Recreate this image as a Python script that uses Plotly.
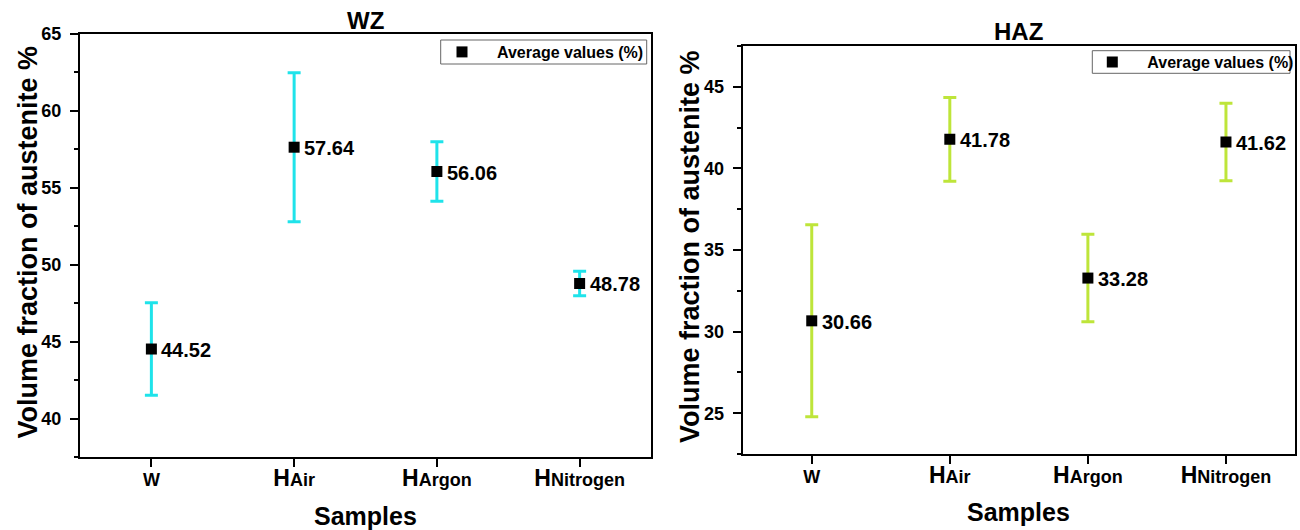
import plotly.graph_objects as go

# ---------------- data ----------------
categories = ["W", "HAir", "HArgon", "HNitrogen"]
tick_labels = [
    "W",
    "<span style='font-size:23px'>H</span>Air",
    "<span style='font-size:23px'>H</span>Argon",
    "<span style='font-size:23px'>H</span>Nitrogen",
]
wz_values = [44.52, 57.64, 56.06, 48.78]
wz_errors = [3.0, 4.84, 1.93, 0.80]
haz_values = [30.66, 41.78, 33.28, 41.62]
haz_errors = [5.88, 2.57, 2.68, 2.37]
series_name = "Average values (%)"
panel_titles = ["WZ", "HAZ"]
y_title = "Volume fraction of austenite %"
x_title = "Samples"

# ---------------- style ----------------
W, H = 1300, 530
FONT = "Liberation Sans, Arial, Helvetica, sans-serif"
CYAN = "#1FE3EA"
LIME = "#BEE53A"

def px_x(p):
    return p / W

def px_y(p):
    return 1 - p / H

fig = go.Figure()

fig.add_trace(go.Scatter(
    x=categories, y=wz_values, mode="markers", name=series_name,
    marker=dict(symbol="square", size=11, color="black"),
    error_y=dict(type="data", array=wz_errors, visible=True,
                 color=CYAN, thickness=3, width=6.5),
    xaxis="x", yaxis="y", legend="legend",
))
fig.add_trace(go.Scatter(
    x=categories, y=haz_values, mode="markers", name=series_name,
    marker=dict(symbol="square", size=11, color="black"),
    error_y=dict(type="data", array=haz_errors, visible=True,
                 color=LIME, thickness=3, width=6.5),
    xaxis="x2", yaxis="y2", legend="legend2",
))

annotations = []
for xr, yr, vals in (("x", "y", wz_values), ("x2", "y2", haz_values)):
    for c, v in zip(categories, vals):
        annotations.append(dict(
            x=c, y=v, xref=xr, yref=yr, text=f"{v:.2f}", showarrow=False,
            xanchor="left", yanchor="middle", xshift=8, yshift=-1,
            font=dict(family=FONT, size=20, color="black", weight="bold"),
        ))

# panel geometry (pixels)
left_panel = dict(x0=80, x1=651, y0=34, y1=457)
right_panel = dict(x0=742.7, x1=1295, y0=46, y1=454)
legend_boxes = [
    dict(x0=440.7, x1=646.7, y0=40, y1=64, marker_x=463),
    dict(x0=1092.3, x1=1290, y0=50.7, y1=73.3, marker_x=1113.3),
]

for panel, title, title_y, ytx, sam_y in (
    (left_panel, panel_titles[0], 21, 28, 516),
    (right_panel, panel_titles[1], 31.5, 690, 512),
):
    cx = (panel["x0"] + panel["x1"]) / 2
    cy = (panel["y0"] + panel["y1"]) / 2
    annotations.append(dict(
        x=px_x(cx), y=px_y(title_y), xref="paper", yref="paper", text=title,
        showarrow=False, xanchor="center", yanchor="middle",
        font=dict(family=FONT, size=24, color="black", weight="bold"),
    ))
    annotations.append(dict(
        x=px_x(ytx), y=px_y(cy - 3), xref="paper", yref="paper", text=y_title,
        showarrow=False, xanchor="center", yanchor="middle", textangle=-90,
        font=dict(family=FONT, size=27, color="black", weight="bold"),
    ))
    annotations.append(dict(
        x=px_x(cx), y=px_y(sam_y), xref="paper", yref="paper", text=x_title,
        showarrow=False, xanchor="center", yanchor="middle",
        font=dict(family=FONT, size=25, color="black", weight="bold"),
    ))

shapes = []
for b in legend_boxes:
    shapes.append(dict(
        type="rect", xref="paper", yref="paper",
        x0=px_x(b["x0"]), x1=px_x(b["x1"]), y0=px_y(b["y1"]), y1=px_y(b["y0"]),
        line=dict(color="#666666", width=1), fillcolor="rgba(0,0,0,0)", layer="above",
    ))

axis_common = dict(
    showline=True, linewidth=2, linecolor="black", mirror=True,
    showgrid=False, zeroline=False, ticks="outside", ticklen=8,
    tickwidth=2, tickcolor="black", automargin=False,
)

xaxis_common = dict(
    axis_common, type="category", categoryorder="array",
    categoryarray=categories, tickvals=categories, ticktext=tick_labels,
    range=[-0.5, 3.5], ticklabelstandoff=-3,
    tickfont=dict(family=FONT, size=18, color="black", weight="bold"),
)

yaxis_common = dict(
    axis_common, dtick=5, tick0=0, ticklabelstandoff=5,
    tickfont=dict(family=FONT, size=18, color="black", weight="bold"),
    minor=dict(ticks="outside", ticklen=4, tickwidth=2, tickcolor="black",
               dtick=2.5, tick0=0, showgrid=False),
)

legend_common = dict(
    xanchor="left", yanchor="middle", bgcolor="rgba(0,0,0,0)",
    borderwidth=0, itemwidth=60,
    font=dict(family=FONT, size=16, color="black", weight="bold"),
)

fig.update_layout(
    width=W, height=H, autosize=False,
    margin=dict(l=0, r=0, t=0, b=0, pad=0, autoexpand=False),
    paper_bgcolor="white", plot_bgcolor="white",
    xaxis=dict(xaxis_common, domain=[px_x(left_panel["x0"]), px_x(left_panel["x1"])],
               anchor="y"),
    yaxis=dict(yaxis_common, domain=[px_y(left_panel["y1"]), px_y(left_panel["y0"])],
               range=[37.5, 65], anchor="x"),
    xaxis2=dict(xaxis_common, domain=[px_x(right_panel["x0"]), px_x(right_panel["x1"])],
                anchor="y2"),
    yaxis2=dict(yaxis_common, domain=[px_y(right_panel["y1"]), px_y(right_panel["y0"])],
                range=[22.5, 47.5], anchor="x2"),
    legend=dict(legend_common, x=px_x(legend_boxes[0]["marker_x"] - 36),
                y=px_y((legend_boxes[0]["y0"] + legend_boxes[0]["y1"]) / 2)),
    legend2=dict(legend_common, x=px_x(legend_boxes[1]["marker_x"] - 36),
                 y=px_y((legend_boxes[1]["y0"] + legend_boxes[1]["y1"]) / 2)),
    annotations=annotations,
    shapes=shapes,
    showlegend=True,
)

fig.write_html("out.html", config={"displayModeBar": False},
               post_script="document.body.style.margin='0';")
